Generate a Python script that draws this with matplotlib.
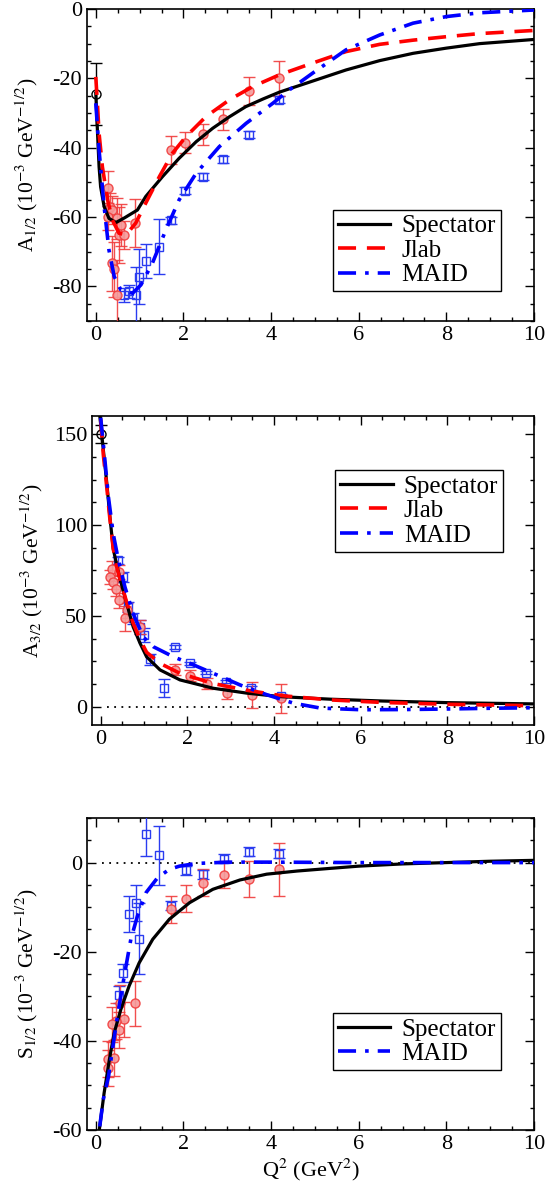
import numpy as np
import matplotlib
matplotlib.use("Agg")
import matplotlib.pyplot as plt
from matplotlib.ticker import MultipleLocator

plt.rcParams['font.family'] = ['Liberation Serif', 'DejaVu Serif']
plt.rcParams['mathtext.fontset'] = 'stix'
plt.rcParams['axes.unicode_minus'] = False

# ---------------- A1/2 ----------------
a12_spec_x = [0, 0.02, 0.04, 0.075, 0.11, 0.19, 0.30, 0.46, 0.65, 0.95, 1.14, 1.52, 1.90, 2.29, 2.67,
              3.05, 3.42, 3.81, 4.19, 4.95, 5.71, 6.48, 7.24, 8.0, 8.76, 10.0]
a12_spec_y = [-24.3, -30.0, -35.9, -45.5, -51.3, -57.0, -60.4, -61.6, -60.3, -58.0, -54.1, -48.4, -43.1,
              -38.3, -34.4, -31.1, -28.2, -26.0, -24.0, -20.8, -17.6, -14.9, -12.8, -11.3, -10.0, -8.8]
a12_jlab_x = [0, 0.04, 0.075, 0.15, 0.27, 0.38, 0.53, 0.69, 0.91, 1.14, 1.45, 1.75, 2.06, 2.51, 3.05,
              3.58, 4.19, 4.95, 5.71, 6.48, 7.24, 8.0, 8.76, 10.0]
a12_jlab_y = [-19.6, -28.0, -35.9, -45.5, -55.1, -60.9, -64.7, -65.2, -61.8, -56.0, -48.4, -41.6, -36.8,
              -31.1, -26.2, -22.4, -19.0, -15.6, -12.3, -10.2, -9.0, -8.0, -7.1, -6.2]
a12_maid_x = [0, 0.075, 0.19, 0.30, 0.42, 0.57, 0.84, 1.03, 1.29, 1.60, 1.90, 2.29, 2.82, 3.43, 4.04,
              4.4, 4.95, 5.71, 6.48, 7.24, 8.0, 8.76, 10.0]
a12_maid_y = [-27.2, -40.7, -57.0, -69.5, -77.2, -81.0, -82.0, -79.6, -73.4, -63.7, -55.1, -47.4, -39.7,
              -33.0, -27.2, -23.5, -18.5, -11.8, -7.5, -4.1, -2.2, -1.1, -0.3]
a12_red_x = [0.29, 0.32, 0.38, 0.27, 0.49, 0.57, 0.52, 0.65, 0.90, 0.37, 0.42, 0.49,
             1.71, 2.04, 2.44, 2.91, 3.49, 4.17]
a12_red_y = [-51.7, -57.0, -58.0, -59.9, -60.4, -62.3, -65.2, -65.2, -61.8, -73.4, -75.1, -82.5,
             -40.7, -38.6, -36.2, -31.8, -23.7, -20.0]
a12_red_e = [5, 4, 4, 4, 6, 6, 8, 4, 7, 8, 8, 10,
             4, 3, 3, 3, 4, 5]
a12_blue_x = [0.65, 0.76, 0.91, 0.99, 1.14, 1.45, 1.71, 2.04, 2.44, 2.91, 3.49, 4.17]
a12_blue_y = [-82.5, -81.5, -82.5, -77.2, -72.7, -68.6, -60.9, -52.5, -48.4, -43.4, -36.3, -26.2]
a12_blue_e = [2, 2, 8, 8, 5, 8, 1, 1, 1, 1, 1, 1]
a12_zero_x, a12_zero_y, a12_zero_e = [0.0], [-24.5], [9]

# ---------------- A3/2 ----------------
a32_spec_x = [-0.02, 0.06, 0.14, 0.21, 0.29, 0.37, 0.45, 0.60, 0.75, 0.91, 1.06, 1.37, 1.83, 2.60,
              3.38, 4.15, 5.30, 6.5, 8.0, 10.0]
a32_spec_y = [160, 141.7, 123.4, 105.1, 86.9, 78, 70, 56.8, 44.0, 34.9, 27.5, 20.3, 14.8, 10.2,
              7.5, 5.6, 4.2, 3.2, 2.3, 1.6]
a32_jlab_x = [0.0, 0.06, 0.14, 0.21, 0.29, 0.37, 0.45, 0.60, 0.75, 0.91, 1.06, 1.37, 1.83, 2.60,
              3.38, 4.15, 5.30, 6.5, 8.0, 10.0]
a32_jlab_y = [158, 139, 121, 104, 87, 77, 70, 57.5, 46, 37, 30, 23.9, 18.4, 12.8,
              9.1, 6.2, 3.8, 2.4, 1.4, 0.6]
a32_maid_x = [0.0, 0.08, 0.18, 0.29, 0.41, 0.56, 0.75, 0.98, 1.22, 1.68, 2.06, 2.60, 3.22, 3.84,
              4.45, 5.07, 6.0, 7.0, 8.0, 9.0, 10.0]
a32_maid_y = [159, 140, 115.2, 95.1, 80.5, 65.9, 51.3, 38.5, 33.0, 27.5, 23.9, 18.4, 12.0, 6.6,
              2.0, -0.7, -1.6, -1.5, -1.2, -0.8, -0.5]
a32_red_x = [0.25, 0.22, 0.43, 0.29, 0.35, 0.43, 0.60, 0.56, 0.91, 1.72, 2.07, 2.45, 2.91, 3.49, 4.15]
a32_red_y = [76, 71.4, 74.1, 68.6, 65, 58.6, 53.1, 48.6, 44.0, 20.3, 17.0, 12.6, 7.5, 6.6, 4.8]
a32_red_e = [4, 4, 4, 4, 4, 4, 4, 7, 4, 3, 3, 3, 3, 7, 8]
a32_blue_x = [0.41, 0.52, 0.64, 0.74, 0.91, 0.99, 1.14, 1.45, 1.72, 2.05, 2.43, 2.90, 3.48, 4.15]
a32_blue_y = [80.5, 71.4, 54.9, 48.6, 44.0, 39.4, 26.1, 10.2, 33.0, 23.9, 18.8, 13.9, 10.2, 6.0]
a32_blue_e = [2, 3, 3, 3, 4, 4, 3, 5, 1, 1, 1, 1, 1, 1]
a32_zero_x, a32_zero_y, a32_zero_e = [0.0], [150], [5]

# ---------------- S1/2 ----------------
s12_spec_x = [0.08, 0.19, 0.31, 0.42, 0.57, 0.76, 0.99, 1.30, 1.68, 2.14, 2.67, 3.29, 3.90, 4.59,
              5.35, 6.0, 7.0, 8.0, 9.0, 10.0]
s12_spec_y = [-60, -51.7, -44.2, -38.2, -33.0, -27.7, -22.5, -17.2, -12.7, -9.0, -6.0, -3.9, -2.6, -1.9,
              -1.3, -0.8, -0.3, 0.0, 0.3, 0.5]
s12_maid_x = [0.09, 0.17, 0.29, 0.38, 0.47, 0.57, 0.69, 0.80, 0.95, 1.15, 1.41, 1.68, 1.91, 2.29,
              3.0, 4.0, 6.0, 8.0, 10.0]
s12_maid_y = [-59.2, -53.2, -48.0, -42.0, -36.0, -30.0, -23.2, -17.2, -12.0, -6.7, -3.4, -1.5, -0.8, -0.2,
              0.1, 0.1, 0.0, 0.0, 0.0]
s12_red_x = [1.72, 2.05, 2.44, 2.92, 3.50, 4.18, 0.89, 0.65, 0.55, 0.46, 0.38, 0.27, 0.28, 0.42, 0.53]
s12_red_y = [-10.5, -8.1, -4.5, -2.7, -3.7, -1.5, -31.6, -35.2, -31.5, -35.6, -36.3, -44.0, -46.1, -43.8, -37.5]
s12_red_e = [3, 3, 3, 3, 4, 6, 5, 4, 4, 4, 4, 4, 4, 4, 4]
s12_blue_x = [1.15, 1.44, 0.75, 0.92, 0.99, 0.63, 0.52, 1.72, 2.05, 2.44, 2.92, 3.50, 4.18]
s12_blue_y = [6.4, 1.6, -11.6, -9.0, -17.1, -24.7, -29.6, -9.7, -1.7, -2.6, 0.9, 2.4, 2.0]
s12_blue_e = [5, 6.7, 4, 4, 8, 2, 2, 1, 1, 1, 1, 1, 1]

zero_line_x = [0.15, 10]

fig = plt.figure(figsize=(5.48, 11.94), dpi=100)
ax1 = fig.add_axes([0.1588, 0.7312, 0.8157, 0.2613])
ax2 = fig.add_axes([0.1679, 0.3928, 0.8066, 0.2588])
ax3 = fig.add_axes([0.1588, 0.0536, 0.8157, 0.2613])

red_edge = '#f03c3c'
red_face = '#f59a9a'
blue = '#2a3cf0'


def style(ax, ylim, ymaj, ymin):
    ax.set_xlim(-0.2, 10)
    ax.set_ylim(*ylim)
    ax.xaxis.set_major_locator(MultipleLocator(2))
    ax.xaxis.set_minor_locator(MultipleLocator(0.5))
    ax.yaxis.set_major_locator(MultipleLocator(ymaj))
    ax.yaxis.set_minor_locator(MultipleLocator(ymin))
    ax.tick_params(which='both', direction='in', top=True, right=True, labelsize=16, width=1)
    ax.tick_params(which='major', length=6.5)
    ax.tick_params(which='minor', length=3.2)
    for s in ax.spines.values():
        s.set_linewidth(1.2)


def points(ax, rx, ry, re, bx, by, be):
    ax.errorbar(bx, by, yerr=be, fmt='s', ms=5.5, mfc='none', mec=blue, mew=1, ecolor=blue,
                elinewidth=1, capsize=4, capthick=1, zorder=3)
    ax.errorbar(rx, ry, yerr=re, fmt='o', ms=6.5, mfc=red_face, mec=red_edge, mew=1, ecolor=red_edge,
                elinewidth=1, capsize=4, capthick=1, alpha=0.9, zorder=3)


def curves(ax, sx, sy, mx, my, jx=None, jy=None):
    ax.plot(sx, sy, color='black', lw=2.3, label='Spectator', zorder=5)
    if jx is not None:
        ax.plot(jx, jy, color='#ff0000', lw=2.6, dashes=(5, 3), label='Jlab', zorder=5)
    ax.plot(mx, my, color='#0000ff', lw=2.6, dashes=(5, 2.5, 1, 2.5), label='MAID', zorder=5)


def legend(ax, y):
    leg = ax.legend(loc='upper left', bbox_to_anchor=(0.55, y), fontsize=18, frameon=True, fancybox=False,
                    edgecolor='black', framealpha=1, handlelength=2.1, handletextpad=0.45,
                    labelspacing=0.08, borderpad=0.2, borderaxespad=0)
    leg.get_frame().set_linewidth(1)


# top
style(ax1, (-90, 0), 20, 5)
points(ax1, a12_red_x, a12_red_y, a12_red_e, a12_blue_x, a12_blue_y, a12_blue_e)
ax1.errorbar(a12_zero_x, a12_zero_y, yerr=a12_zero_e, fmt='o', ms=6.5, mfc='none', mec='black', mew=1,
             ecolor='black', elinewidth=1, capsize=4)
curves(ax1, a12_spec_x, a12_spec_y, a12_maid_x, a12_maid_y, a12_jlab_x, a12_jlab_y)
ax1.set_ylabel(r'A$_{1/2}$ (10$^{-3}$ GeV$^{-1/2}$)', fontsize=15.5, labelpad=9)
legend(ax1, 0.356)

# middle
style(ax2, (-10, 160), 50, 12.5)
ax2.hlines(0, zero_line_x[0], zero_line_x[1], colors='black', linestyles=(0, (1, 3)), lw=1.3)
points(ax2, a32_red_x, a32_red_y, a32_red_e, a32_blue_x, a32_blue_y, a32_blue_e)
ax2.errorbar(a32_zero_x, a32_zero_y, yerr=a32_zero_e, fmt='o', ms=6.5, mfc='none', mec='black', mew=1,
             ecolor='black', elinewidth=1, capsize=4)
curves(ax2, a32_spec_x, a32_spec_y, a32_maid_x, a32_maid_y, a32_jlab_x, a32_jlab_y)
ax2.set_ylabel(r'A$_{3/2}$ (10$^{-3}$ GeV$^{-1/2}$)', fontsize=15.5, labelpad=6)
legend(ax2, 0.825)

# bottom
style(ax3, (-60, 10), 20, 5)
ax3.hlines(0, zero_line_x[0], zero_line_x[1], colors='black', linestyles=(0, (1, 3)), lw=1.3)
points(ax3, s12_red_x, s12_red_y, s12_red_e, s12_blue_x, s12_blue_y, s12_blue_e)
curves(ax3, s12_spec_x, s12_spec_y, s12_maid_x, s12_maid_y)
ax3.set_ylabel(r'S$_{1/2}$ (10$^{-3}$ GeV$^{-1/2}$)', fontsize=15.5, labelpad=9)
ax3.set_xlabel(r'Q$^2$ (GeV$^2$)', fontsize=16, labelpad=2)
legend(ax3, 0.375)

fig.savefig('out.png', dpi=100)
